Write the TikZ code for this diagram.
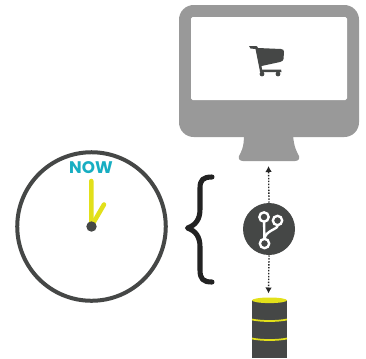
\documentclass[tikz,border=0pt]{standalone}
\usepackage{fontspec}
\setmainfont{Poppins}
\usetikzlibrary{arrows.meta}
\definecolor{mongray}{HTML}{999999}
\definecolor{dk}{HTML}{454746}
\definecolor{brace}{HTML}{222222}
\definecolor{yel}{HTML}{E2E01A}
\definecolor{teal2}{HTML}{17AEC2}
\tikzset{
  hand/.style={yel,line width=3.4pt,line cap=round},
  link/.style={-{Latex[length=4.5pt,width=5pt]},black!85,line width=1pt,dash pattern=on 1.1pt off 1.1pt},
  branch/.style={white,line width=1.8pt},
  ring/.style={draw=white,line width=1.8pt,fill=dk,circle,inner sep=0pt,minimum size=7pt},
  stripe/.style={yel,line width=1.3pt}
}
\begin{document}
\begin{tikzpicture}[x=0.75pt,y=-0.75pt]
\useasboundingbox (0,0) rectangle (366,358);
% monitor
\fill[mongray] (244,135) .. controls (244,148) and (241,152) .. (239,156) .. controls (238,159) and (240,161) .. (243,161) -- (295,161) .. controls (298,161) and (300,159) .. (299,156) .. controls (297,152) and (294,148) .. (293,135) -- cycle;
\fill[mongray,rounded corners=11pt] (179,5) rectangle (359,137);
\fill[white,rounded corners=1.2pt] (191,17) rectangle (347,100);
% cart
\fill[dk] (249,46) -- (256,46) .. controls (257,46) and (257.5,46.5) .. (258,48) -- (281,49) .. controls (283,49) and (284,50) .. (284,52) -- (283.5,59) .. controls (283.5,60.5) and (282,61.5) .. (280,62) -- (261.5,66) -- (262,69.5) -- (281,69.5) -- (281.5,72) -- (260,72) -- (259.5,69) -- (255.5,49) -- (250.5,48.5) -- cycle;
\fill[dk] (262,74) circle (2.4);
\fill[dk] (278,74) circle (2.4);
% clock
\node[circle,draw=dk,line width=3pt,fill=white,minimum size=111.4pt,inner sep=0pt] (clock) at (91.5,226.5) {};
\node[text=teal2,font=\fontsize{12.6pt}{12pt}\selectfont\bfseries,inner sep=0pt] (now) at (91,168) {NOW};
\draw[hand] (91.5,226) -- (91.3,181);
\draw[hand] (91.5,226) -- (104,204.5);
\fill[dk] (91.5,226.5) circle (5.2);
% brace
\draw[brace,line width=3.8pt,line cap=round,line join=round] (212,177) .. controls (203,177) and (200,180) .. (200,188) -- (200,209) .. controls (200,219) and (196,225) .. (187.5,228) .. controls (196,231) and (200,237) .. (200,247) -- (200,270) .. controls (200,279) and (203,282) .. (212,282);
% db
\fill[dk] (252,300) -- (252,358) -- (287,358) -- (287,300) -- cycle;
\fill[yel] (269.5,300.3) ellipse (17.5 and 2.8);
\draw[stripe] (252,319.5) .. controls (262,321.5) and (277,321.5) .. (287,319.5);
\draw[stripe] (252,338.5) .. controls (262,340.5) and (277,340.5) .. (287,338.5);
\coordinate (db) at (268.5,293.5);
\coordinate (mon) at (268.5,166);
% git
\node[circle,fill=dk,minimum size=39pt,inner sep=0pt] (git) at (269,229) {};
\draw[link] (git.north) -- (mon);
\draw[link] (git.south) -- (db);
\coordinate (r1) at (264,217);
\coordinate (r2) at (277.5,220.5);
\coordinate (r3) at (264.5,243.5);
\draw[branch] (r1) -- (r3);
\draw[branch] (r2) -- (277.5,226) .. controls (277.5,229) and (265,231) .. (264.5,239);
\node[ring] (a) at (r1) {};
\node[ring] (b) at (r2) {};
\node[ring] (c) at (r3) {};
\end{tikzpicture}
\end{document}
